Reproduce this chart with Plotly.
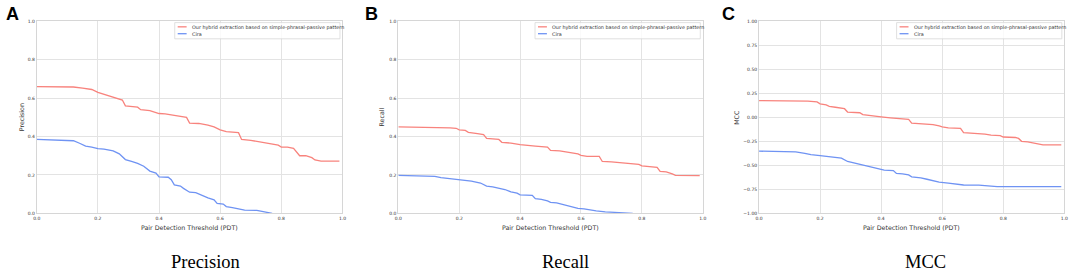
import plotly.graph_objects as go

W, H = 1073, 271

# ---------------- data ----------------
series_names = ["Our hybrid extraction based on simple-phrasal-passive pattern", "Cira"]
panel_letters = ["A", "B", "C"]
panel_titles = ["Precision", "Recall", "MCC"]
y_titles = ["Precision", "Recall", "MCC"]
x_title = "Pair Detection Threshold (PDT)"
x_ticks = [0.0, 0.2, 0.4, 0.6, 0.8, 1.0]
y_ticks_pr = [0.0, 0.2, 0.4, 0.6, 0.8, 1.0]
y_ticks_mcc = [-1.0, -0.75, -0.5, -0.25, 0.0, 0.25, 0.5, 0.75, 1.0]

prec_ours_x = [0.0, 0.12, 0.15, 0.18, 0.20, 0.22, 0.24, 0.26, 0.28, 0.29, 0.31, 0.33, 0.34, 0.37, 0.40,
               0.42, 0.45, 0.48, 0.49, 0.50, 0.53, 0.56, 0.58, 0.60, 0.62, 0.66, 0.67, 0.70, 0.74, 0.77,
               0.79, 0.80, 0.82, 0.84, 0.86, 0.88, 0.90, 0.91, 0.93, 0.99]
prec_ours_y = [0.66, 0.658, 0.652, 0.645, 0.63, 0.62, 0.61, 0.60, 0.59, 0.56, 0.555, 0.553, 0.54, 0.535, 0.52,
               0.518, 0.51, 0.503, 0.50, 0.47, 0.468, 0.46, 0.45, 0.435, 0.425, 0.42, 0.385, 0.38, 0.37, 0.36,
               0.355, 0.345, 0.345, 0.338, 0.30, 0.30, 0.29, 0.278, 0.272, 0.272]
prec_cira_x = [0.0, 0.05, 0.06, 0.12, 0.14, 0.16, 0.18, 0.20, 0.22, 0.25, 0.27, 0.29, 0.31, 0.33, 0.35,
               0.37, 0.39, 0.40, 0.43, 0.44, 0.45, 0.47, 0.48, 0.50, 0.52, 0.54, 0.56, 0.58, 0.59, 0.61,
               0.62, 0.64, 0.66, 0.68, 0.72, 0.74, 0.76, 0.77]
prec_cira_y = [0.385, 0.383, 0.38, 0.378, 0.365, 0.35, 0.345, 0.337, 0.334, 0.325, 0.31, 0.28, 0.27, 0.26, 0.245,
               0.22, 0.21, 0.19, 0.188, 0.175, 0.148, 0.142, 0.13, 0.11, 0.108, 0.093, 0.08, 0.07, 0.052, 0.048,
               0.035, 0.03, 0.025, 0.017, 0.015, 0.01, 0.003, 0.0]

rec_ours_x = [0.0, 0.15, 0.17, 0.19, 0.20, 0.22, 0.23, 0.26, 0.28, 0.29, 0.33, 0.34, 0.37, 0.40, 0.43,
              0.45, 0.49, 0.50, 0.53, 0.55, 0.57, 0.59, 0.60, 0.62, 0.66, 0.67, 0.70, 0.74, 0.76, 0.79,
              0.80, 0.83, 0.85, 0.86, 0.88, 0.90, 0.91, 0.99]
rec_ours_y = [0.45, 0.449, 0.445, 0.443, 0.435, 0.432, 0.422, 0.415, 0.41, 0.39, 0.385, 0.37, 0.366, 0.358, 0.355,
              0.35, 0.345, 0.328, 0.325, 0.32, 0.318, 0.31, 0.302, 0.297, 0.297, 0.27, 0.268, 0.262, 0.257, 0.255,
              0.247, 0.245, 0.24, 0.218, 0.216, 0.205, 0.198, 0.196]
rec_cira_x = [0.0, 0.05, 0.07, 0.12, 0.14, 0.17, 0.20, 0.24, 0.27, 0.29, 0.31, 0.33, 0.35, 0.37, 0.39,
              0.40, 0.44, 0.45, 0.47, 0.49, 0.50, 0.52, 0.54, 0.56, 0.57, 0.59, 0.61, 0.63, 0.65, 0.68,
              0.72, 0.74, 0.77]
rec_cira_y = [0.198, 0.197, 0.195, 0.193, 0.186, 0.18, 0.173, 0.168, 0.158, 0.142, 0.138, 0.132, 0.124, 0.112, 0.105,
              0.096, 0.094, 0.076, 0.073, 0.065, 0.057, 0.054, 0.046, 0.04, 0.035, 0.026, 0.023, 0.017, 0.013, 0.008,
              0.006, 0.003, 0.0]

mcc_ours_x = [0.0, 0.12, 0.16, 0.19, 0.20, 0.22, 0.23, 0.25, 0.27, 0.28, 0.29, 0.31, 0.33, 0.34, 0.37,
              0.40, 0.43, 0.46, 0.49, 0.50, 0.53, 0.57, 0.59, 0.60, 0.62, 0.66, 0.67, 0.70, 0.74, 0.76,
              0.79, 0.80, 0.84, 0.85, 0.86, 0.88, 0.90, 0.91, 0.93, 0.99]
mcc_ours_y = [0.175, 0.173, 0.168, 0.16, 0.14, 0.13, 0.115, 0.105, 0.10, 0.09, 0.055, 0.05, 0.048, 0.028, 0.02,
              0.005, -0.005, -0.015, -0.022, -0.06, -0.065, -0.075, -0.09, -0.10, -0.11, -0.115, -0.16, -0.165, -0.175, -0.185,
              -0.19, -0.205, -0.21, -0.22, -0.25, -0.255, -0.27, -0.28, -0.287, -0.287]
mcc_cira_x = [0.0, 0.05, 0.07, 0.12, 0.15, 0.17, 0.20, 0.24, 0.27, 0.29, 0.31, 0.33, 0.35, 0.37, 0.39,
              0.41, 0.44, 0.45, 0.47, 0.49, 0.50, 0.53, 0.55, 0.57, 0.59, 0.62, 0.64, 0.67, 0.72, 0.75,
              0.78, 0.85, 0.99]
mcc_cira_y = [-0.352, -0.353, -0.358, -0.36, -0.375, -0.388, -0.398, -0.41, -0.425, -0.46, -0.475, -0.485, -0.50, -0.52, -0.535,
              -0.55, -0.555, -0.585, -0.59, -0.60, -0.62, -0.63, -0.645, -0.66, -0.675, -0.685, -0.695, -0.705, -0.707, -0.715,
              -0.722, -0.722, -0.722]

panels = [
    (prec_ours_x, prec_ours_y, prec_cira_x, prec_cira_y),
    (rec_ours_x, rec_ours_y, rec_cira_x, rec_cira_y),
    (mcc_ours_x, mcc_ours_y, mcc_cira_x, mcc_cira_y),
]

# ---------------- styling / layout ----------------
RED = "#F8837D"
BLUE = "#6F93F3"
GRID = "#E3E3E3"
FRAME = "#D6D6D6"
TXT = "#333333"

# panel plot-area pixel boxes (left, right), shared top/bottom
px_boxes = [(33.0, 341.0), (397.3, 704.0), (760.7, 1068.3)]
top_px, bot_px = 19.7, 215.3


def px_x(p):
    return p / W


def px_y(p):
    return 1 - p / H


fig = go.Figure()
annotations = []
shapes = []

for i, (ox, oy, cx, cy) in enumerate(panels):
    n = "" if i == 0 else str(i + 1)
    fig.add_trace(go.Scatter(x=ox, y=oy, mode="lines", line=dict(color=RED, width=1.3),
                             xaxis="x" + n, yaxis="y" + n, showlegend=False, name=series_names[0]))
    fig.add_trace(go.Scatter(x=cx, y=cy, mode="lines", line=dict(color=BLUE, width=1.3),
                             xaxis="x" + n, yaxis="y" + n, showlegend=False, name=series_names[1]))

    l, r = px_boxes[i]
    is_mcc = i == 2
    xa = dict(domain=[px_x(l), px_x(r)], range=[0, 1], tickvals=x_ticks, tickformat=".1f",
              showgrid=True, gridcolor=GRID, gridwidth=1, zeroline=False,
              showline=True, linecolor=FRAME, linewidth=1, mirror=True, ticks="",
              tickfont=dict(family="DejaVu Sans", size=4.5, color=TXT),
              anchor="y" + n)
    ya = dict(domain=[px_y(bot_px), px_y(top_px)],
              range=[-1, 1] if is_mcc else [0, 1],
              tickvals=y_ticks_mcc if is_mcc else y_ticks_pr,
              tickformat=".2f" if is_mcc else ".1f",
              showgrid=True, gridcolor=GRID, gridwidth=1, zeroline=False,
              showline=True, linecolor=FRAME, linewidth=1, mirror=True, ticks="",
              tickfont=dict(family="DejaVu Sans", size=4.5, color=TXT),
              anchor="x" + n)
    fig.update_layout(**{"xaxis" + n: xa, "yaxis" + n: ya})

    # x-axis title
    annotations.append(dict(text=x_title, x=px_x((l + r) / 2), y=px_y(229.5), xref="paper", yref="paper",
                            showarrow=False, xanchor="center", yanchor="middle",
                            font=dict(family="DejaVu Sans", size=6.3, color=TXT)))
    # y-axis title
    ytx = [17, 380, 738][i]
    annotations.append(dict(text=y_titles[i], x=px_x(ytx), y=px_y((top_px + bot_px) / 2), xref="paper", yref="paper",
                            showarrow=False, xanchor="center", yanchor="middle", textangle=-90,
                            font=dict(family="DejaVu Sans", size=6.3, color=TXT)))
    # panel letter
    lx = [0.0, 361.5, 721.5][i]
    annotations.append(dict(text="<b>" + panel_letters[i] + "</b>", x=px_x(lx), y=px_y(12.3), xref="paper", yref="paper",
                            showarrow=False, xanchor="left", yanchor="middle",
                            font=dict(family="Liberation Sans", size=18, color="#000000")))
    # bottom caption
    cxp = [202.8, 566, 928.5][i]
    annotations.append(dict(text=panel_titles[i], x=px_x(cxp), y=px_y(277), xref="paper", yref="paper",
                            showarrow=False, xanchor="center", yanchor="bottom",
                            font=dict(family="Liberation Serif", size=18.5, color="#000000")))

    # custom legend
    lr = r - 2.5
    ll = lr - 166.5
    shapes.append(dict(type="rect", xref="paper", yref="paper", x0=px_x(ll), x1=px_x(lr),
                       y0=px_y(37.5), y1=px_y(21), line=dict(color="#D8D8D8", width=0.8),
                       fillcolor="rgba(255,255,255,0.8)", layer="above"))
    for k, (col, yy) in enumerate([(RED, 25.3), (BLUE, 32.3)]):
        shapes.append(dict(type="line", xref="paper", yref="paper", x0=px_x(ll + 3), x1=px_x(ll + 12),
                           y0=px_y(yy), y1=px_y(yy), line=dict(color=col, width=1.3), layer="above"))
        annotations.append(dict(text=series_names[k], x=px_x(ll + 15.5), y=px_y(yy), xref="paper", yref="paper",
                                showarrow=False, xanchor="left", yanchor="middle",
                                font=dict(family="DejaVu Sans", size=4.85, color=TXT)))

fig.update_layout(width=W, height=H, margin=dict(l=0, r=0, t=0, b=0),
                  paper_bgcolor="white", plot_bgcolor="white",
                  annotations=annotations, shapes=shapes, showlegend=False)

fig.write_html("out.html", config={"displayModeBar": False},
               post_script="document.body.style.margin='0px';document.body.style.padding='0px';")
